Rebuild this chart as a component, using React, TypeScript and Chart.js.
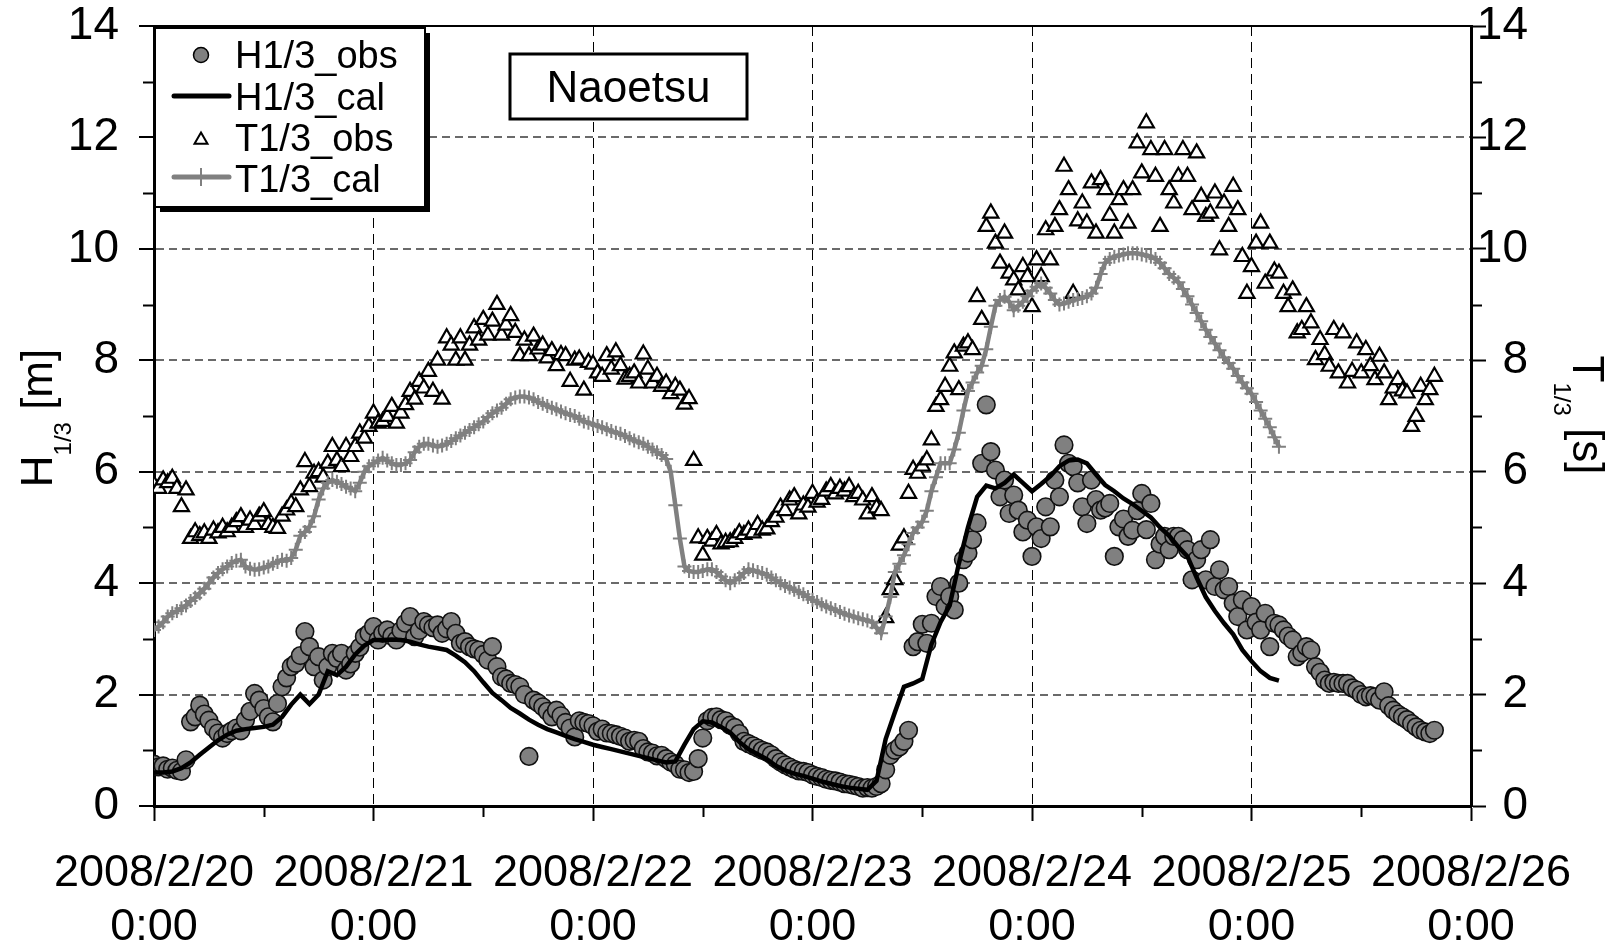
import React, { useEffect, useRef } from 'react';
import { Chart, registerables } from 'chart.js';

Chart.register(...registerables);

const FONT = '"Liberation Sans", Arial, Helvetica, sans-serif';

// x axis: hours after 2008/2/20 0:00
const xTickDates = ['2008/2/20', '2008/2/21', '2008/2/22', '2008/2/23', '2008/2/24', '2008/2/25', '2008/2/26'];
const xTickTime = '0:00';
const HOURS_PER_DAY = 24;
const X_MAX_HOURS = 144;

const seriesLabels = ['H1/3_obs', 'H1/3_cal', 'T1/3_obs', 'T1/3_cal'];
const stationName = 'Naoetsu';

// sampling interval of each series [hours]
const OBS_STEP = 0.5;
const HCAL_STEP = 1;
const TCAL_STEP = 0.5;

// observed significant wave height [m], every 30 min from 2008/2/20 0:00
const hObs = [
  0.75, 0.7, 0.72, 0.66, 0.68, 0.64, 0.62, 0.83, 1.51, 1.6,
  1.81, 1.65, 1.54, 1.4, 1.31, 1.22, 1.3, 1.35, 1.4, 1.35,
  1.54, 1.7, 2.02, 1.9, 1.75, 1.6, 1.51, 1.84, 2.14, 2.3,
  2.5, 2.56, 2.7, 3.13, 2.86, 2.5, 2.68, 2.26, 2.5, 2.74,
  2.65, 2.74, 2.44, 2.55, 2.74, 2.85, 3.04, 3.1, 3.22, 2.98,
  3.1, 3.16, 3.05, 2.98, 3.15, 3.28, 3.4, 3.04, 3.15, 3.31,
  3.25, 3.2, 3.25, 3.1, 3.18, 3.31, 3.1, 2.92, 2.95, 2.86,
  2.82, 2.8, 2.72, 2.62, 2.86, 2.5, 2.32, 2.28, 2.2, 2.18,
  2.14, 2.0, 0.89, 1.9, 1.85, 1.78, 1.7, 1.6, 1.72, 1.62,
  1.5, 1.4, 1.24, 1.53, 1.5, 1.48, 1.44, 1.34, 1.38, 1.31,
  1.3, 1.28, 1.25, 1.22, 1.16, 1.18, 1.16, 1.03, 0.97, 0.95,
  0.9, 0.91, 0.85, 0.79, 0.75, 0.66, 0.65, 0.6, 0.62, 0.85,
  1.22, 1.53, 1.59, 1.6, 1.55, 1.53, 1.45, 1.41, 1.3, 1.16,
  1.12, 1.08, 1.04, 1.0, 0.97, 0.92, 0.85, 0.79, 0.74, 0.7,
  0.66, 0.63, 0.62, 0.6, 0.56, 0.53, 0.51, 0.48, 0.46, 0.45,
  0.43, 0.4, 0.39, 0.37, 0.35, 0.32, 0.33, 0.32, 0.35, 0.4,
  0.65, 0.91, 1.0, 1.06, 1.16, 1.36, 2.86, 2.95, 3.26, 2.92,
  3.28, 3.76, 3.94, 3.58, 3.76, 3.52, 4.0, 4.42, 4.54, 4.78,
  5.08, 6.15, 7.2, 6.36, 6.03, 5.55, 5.85, 5.25, 5.58, 5.31,
  4.92, 5.13, 4.48, 5.01, 4.8, 5.37, 5.01, 5.85, 5.55, 6.48,
  6.15, 6.09, 5.8, 5.37, 5.07, 5.85, 5.5, 5.31, 5.35, 5.43,
  4.48, 5.01, 5.15, 4.84, 4.95, 5.3, 5.61, 4.96, 5.43, 4.42,
  4.7, 4.84, 4.6, 4.84, 4.84, 4.78, 4.6, 4.06, 4.42, 4.6,
  4.06, 4.78, 3.94, 4.24, 3.88, 3.94, 3.64, 3.4, 3.7, 3.16,
  3.58, 3.3, 3.16, 3.46, 2.86, 3.28, 3.25, 3.16, 3.05, 2.98,
  2.68, 2.75, 2.86, 2.8, 2.5, 2.4, 2.26, 2.2, 2.22, 2.2,
  2.2, 2.2, 2.12, 2.08, 2.0, 1.96, 1.98, 1.96, 1.9, 2.05,
  1.8, 1.72, 1.65, 1.6, 1.55, 1.48, 1.42, 1.36, 1.33, 1.3,
  1.36,
];

// calculated significant wave height [m], hourly
const hCal = [
  0.6, 0.6, 0.62, 0.68, 0.78, 0.92, 1.05, 1.18, 1.28, 1.35,
  1.38, 1.4, 1.42, 1.46, 1.6, 1.82, 2.0, 1.83, 2.0, 2.42,
  2.35, 2.5, 2.72, 2.88, 2.98, 2.98, 2.99, 2.98, 2.95, 2.9,
  2.86, 2.83, 2.8, 2.7, 2.58, 2.42, 2.22, 2.03, 1.9, 1.76,
  1.66, 1.55, 1.46, 1.38, 1.32, 1.26, 1.2, 1.15, 1.1, 1.06,
  1.02, 0.98, 0.94, 0.9, 0.86, 0.82, 0.78, 0.8, 1.1, 1.38,
  1.52, 1.5, 1.42, 1.32, 1.15, 1.02, 0.93, 0.84, 0.72, 0.64,
  0.58, 0.54, 0.49, 0.44, 0.4, 0.36, 0.33, 0.31, 0.29, 0.45,
  1.2, 1.68, 2.14, 2.2, 2.28, 2.9, 3.3, 3.6, 4.35, 5.0,
  5.55, 5.75, 5.7, 5.8, 5.95, 5.8, 5.65, 5.78, 5.92, 6.1,
  6.2, 6.22, 6.15, 5.95, 5.76, 5.65, 5.52, 5.42, 5.3, 5.18,
  5.0, 4.85, 4.65, 4.48, 4.1, 3.75, 3.5, 3.28, 3.08, 2.8,
  2.6, 2.42, 2.3, 2.25,
];

// observed significant wave period [s], every 30 min
const tObs = [
  5.76, 5.7, 5.85, 5.8, 5.88, 5.7, 5.37, 5.67, 4.8, 4.92,
  4.85, 4.9, 4.8, 4.95, 4.9, 5.0, 4.92, 5.0, 5.1, 5.19,
  5.0, 5.13, 5.05, 5.2, 5.28, 5.05, 5.0, 4.98, 5.2, 5.31,
  5.43, 5.37, 5.67, 6.18, 5.73, 5.97, 6.0, 5.9, 6.15, 6.45,
  6.2, 6.09, 6.45, 6.27, 6.45, 6.69, 6.6, 6.81, 7.05, 6.87,
  6.9, 6.99, 7.17, 6.87, 7.05, 7.2, 7.44, 7.3, 7.62, 7.5,
  7.8, 7.44, 8.0, 7.3, 8.4, 8.27, 8.0, 8.4, 8.0, 8.27,
  8.58, 8.36, 8.73, 8.45, 8.7, 9.0, 8.45, 8.63, 8.8, 8.5,
  8.08, 8.36, 8.08, 8.43, 8.2, 8.27, 8.04, 8.17, 7.9, 8.1,
  8.08, 7.62, 8.0, 8.02, 7.46, 7.96, 7.93, 7.77, 7.71, 8.08,
  7.84, 8.15, 7.9, 7.66, 7.71, 7.77, 7.59, 8.11, 7.84, 7.59,
  7.71, 7.53, 7.59, 7.4, 7.53, 7.46, 7.21, 7.31, 6.2, 4.81,
  4.5, 4.8, 4.75, 4.87, 4.7, 4.73, 4.74, 4.8, 4.9, 4.87,
  4.95, 4.9, 5.05, 4.95, 4.97, 5.1, 5.18, 5.36, 5.3, 5.49,
  5.55, 5.24, 5.4, 5.36, 5.61, 5.45, 5.5, 5.65, 5.73, 5.6,
  5.7, 5.65, 5.73, 5.55, 5.61, 5.49, 5.24, 5.55, 5.35, 5.3,
  3.38, 3.88, 4.06, 4.68, 4.81, 5.61, 6.04, 5.97, 6.1, 6.21,
  6.57, 7.17, 7.29, 7.53, 7.89, 8.13, 7.47, 8.25, 8.31, 8.19,
  9.14, 8.73, 10.4, 10.64, 10.1, 9.74, 10.28, 9.56, 9.44, 9.26,
  9.68, 9.5, 8.96, 9.8, 9.5, 10.34, 9.8, 10.4, 10.7, 11.48,
  11.06, 9.2, 10.5, 10.82, 10.46, 11.18, 10.28, 11.24, 11.06, 10.6,
  10.28, 10.88, 11.06, 10.46, 11.06, 11.9, 11.36, 12.26, 11.78, 11.3,
  10.4, 11.78, 11.06, 10.82, 11.3, 11.78, 11.3, 10.7, 11.72, 10.94,
  10.58, 10.64, 11.0, 9.98, 10.82, 10.4, 11.12, 10.7, 9.86, 9.2,
  9.68, 10.1, 10.46, 9.38, 10.1, 9.6, 9.56, 9.2, 8.96, 9.26,
  8.49, 8.55, 8.96, 8.67, 8.01, 8.37, 8.1, 7.89, 8.55, 7.77,
  8.49, 7.59, 7.8, 8.31, 7.77, 8.19, 7.9, 7.65, 8.07, 7.77,
  7.29, 7.5, 7.65, 7.45, 7.41, 6.81, 6.99, 7.53, 7.29, 7.47,
  7.71,
];

// calculated significant wave period [s], every 30 min
const tCal = [
  3.16, 3.22, 3.3, 3.4, 3.46, 3.5, 3.55, 3.6, 3.68, 3.74,
  3.82, 3.9, 4.0, 4.1, 4.18, 4.25, 4.3, 4.36, 4.4, 4.42,
  4.3, 4.26, 4.24, 4.25, 4.28, 4.3, 4.35, 4.38, 4.42, 4.4,
  4.45, 4.6, 4.85, 4.92, 5.01, 5.2, 5.5, 5.7, 5.8, 5.85,
  5.82, 5.78, 5.73, 5.7, 5.65, 5.8, 6.0, 6.1, 6.15, 6.2,
  6.25, 6.2, 6.15, 6.12, 6.12, 6.15, 6.21, 6.35, 6.45, 6.5,
  6.5, 6.47, 6.45, 6.47, 6.5, 6.55, 6.6, 6.65, 6.7, 6.75,
  6.8, 6.85, 6.9, 6.98, 7.05, 7.1, 7.15, 7.22, 7.3, 7.33,
  7.35, 7.35, 7.33, 7.3, 7.25, 7.22, 7.18, 7.15, 7.12, 7.08,
  7.05, 7.02, 7.0, 6.95, 6.9, 6.88, 6.85, 6.82, 6.8, 6.76,
  6.73, 6.7, 6.68, 6.64, 6.6, 6.56, 6.53, 6.5, 6.45, 6.4,
  6.35, 6.3, 6.23, 6.0, 5.4, 4.8, 4.3, 4.22, 4.2, 4.2,
  4.22, 4.25, 4.25, 4.2, 4.12, 4.05, 4.0, 4.05, 4.1, 4.18,
  4.25, 4.23, 4.2, 4.18, 4.15, 4.1, 4.05, 4.0, 3.95, 3.92,
  3.88, 3.84, 3.8, 3.75, 3.7, 3.66, 3.62, 3.58, 3.55, 3.52,
  3.48, 3.45, 3.42, 3.4, 3.37, 3.35, 3.33, 3.3, 3.2, 3.1,
  3.4, 3.75, 4.2, 4.35, 4.5, 4.7, 4.9, 5.0, 5.1, 5.3,
  5.65, 5.9, 6.15, 6.15, 6.15, 6.4, 6.7, 7.1, 7.45, 7.6,
  7.78, 7.9, 8.2, 8.6, 8.98, 9.08, 9.14, 9.05, 8.9, 8.98,
  9.05, 9.15, 9.25, 9.32, 9.38, 9.3, 9.2, 9.08, 9.0, 9.02,
  9.05, 9.08, 9.1, 9.12, 9.15, 9.2, 9.3, 9.55, 9.75, 9.82,
  9.86, 9.88, 9.9, 9.92, 9.92, 9.92, 9.9, 9.88, 9.86, 9.82,
  9.75, 9.65, 9.55, 9.48, 9.4, 9.28, 9.15, 9.0, 8.85, 8.7,
  8.55, 8.42, 8.3, 8.18, 8.05, 7.95, 7.85, 7.72, 7.6, 7.5,
  7.4, 7.25, 7.1, 6.95, 6.8, 6.62, 6.45,
];

const toXY = (vals: number[], step: number) => vals.map((y, i) => ({ x: i * step, y }));

const GRAY = '#808080';
const MAJOR_TICK = 15;
const MINOR_TICK = 11;

function drawRich(ctx: CanvasRenderingContext2D, parts: { text: string; size: number; dy: number }[], x: number, y: number, angle: number) {
  ctx.save();
  ctx.translate(x, y);
  ctx.rotate(angle);
  let total = 0;
  const widths = parts.map((p) => {
    ctx.font = `${p.size}px ${FONT}`;
    const w = ctx.measureText(p.text).width;
    total += w;
    return w;
  });
  let cx = -total / 2;
  ctx.fillStyle = '#000';
  ctx.textAlign = 'left';
  ctx.textBaseline = 'alphabetic';
  parts.forEach((p, i) => {
    ctx.font = `${p.size}px ${FONT}`;
    ctx.fillText(p.text, cx, p.dy);
    cx += widths[i];
  });
  ctx.restore();
}

const decorPlugin = {
  id: 'decor',
  afterDraw(chart: any) {
    const { ctx, chartArea: a, scales } = chart;
    ctx.save();
    // top frame line
    ctx.strokeStyle = '#000';
    ctx.lineWidth = 2;
    ctx.beginPath();
    ctx.moveTo(a.left, a.top);
    ctx.lineTo(a.right, a.top);
    ctx.stroke();

    // minor (shorter) tick marks
    ctx.lineWidth = 2;
    ctx.beginPath();
    scales.x.ticks.forEach((t: any) => {
      if (Math.round(t.value) % HOURS_PER_DAY !== 0) {
        const px = Math.round(scales.x.getPixelForValue(t.value)) + 0.5;
        ctx.moveTo(px, a.bottom);
        ctx.lineTo(px, a.bottom + MINOR_TICK);
      }
    });
    scales.y.ticks.forEach((t: any) => {
      if (Math.round(t.value) % 2 !== 0) {
        const py = Math.round(scales.y.getPixelForValue(t.value)) + 0.5;
        ctx.moveTo(a.left, py);
        ctx.lineTo(a.left - MINOR_TICK, py);
      }
    });
    scales.y2.ticks.forEach((t: any) => {
      if (Math.round(t.value) % 2 !== 0) {
        const py = Math.round(scales.y2.getPixelForValue(t.value)) + 0.5;
        ctx.moveTo(a.right, py);
        ctx.lineTo(a.right + MINOR_TICK, py);
      }
    });
    ctx.stroke();

    // axis titles with subscripts
    drawRich(ctx, [
      { text: 'H', size: 44, dy: 0 },
      { text: '1/3', size: 24, dy: 19 },
      { text: ' [m]', size: 44, dy: 0 },
    ], 52, 418, -Math.PI / 2);
    drawRich(ctx, [
      { text: 'T', size: 44, dy: 0 },
      { text: '1/3', size: 24, dy: 19 },
      { text: ' [s]', size: 44, dy: 0 },
    ], 1573, 415, Math.PI / 2);

    // legend box with shadow
    const lx = 155, ly = 28, lw = 270, lh = 179;
    ctx.fillStyle = '#000';
    ctx.fillRect(lx + 5, ly + 5, lw, lh);
    ctx.fillStyle = '#fff';
    ctx.fillRect(lx, ly, lw, lh);
    ctx.strokeStyle = '#000';
    ctx.lineWidth = 2;
    ctx.strokeRect(lx, ly, lw, lh);

    const symX = 201;
    const rowsY = [55, 96, 140, 177];
    const baseY = [68, 110, 151, 192];
    ctx.beginPath();
    ctx.arc(symX, rowsY[0], 7.5, 0, Math.PI * 2);
    ctx.fillStyle = GRAY;
    ctx.fill();
    ctx.lineWidth = 1.5;
    ctx.strokeStyle = '#000';
    ctx.stroke();
    ctx.lineCap = 'round';
    ctx.lineWidth = 5;
    ctx.strokeStyle = '#000';
    ctx.beginPath();
    ctx.moveTo(174, rowsY[1]);
    ctx.lineTo(229, rowsY[1]);
    ctx.stroke();
    const r = 7.5;
    ctx.beginPath();
    ctx.moveTo(symX, rowsY[2] - r);
    ctx.lineTo(symX + r * 0.866, rowsY[2] + r * 0.5);
    ctx.lineTo(symX - r * 0.866, rowsY[2] + r * 0.5);
    ctx.closePath();
    ctx.fillStyle = '#fff';
    ctx.fill();
    ctx.lineWidth = 2;
    ctx.lineCap = 'butt';
    ctx.stroke();
    ctx.lineCap = 'round';
    ctx.lineWidth = 5;
    ctx.strokeStyle = GRAY;
    ctx.beginPath();
    ctx.moveTo(174, rowsY[3]);
    ctx.lineTo(229, rowsY[3]);
    ctx.stroke();
    ctx.lineCap = 'butt';
    ctx.lineWidth = 2;
    ctx.beginPath();
    ctx.moveTo(symX, rowsY[3] - 9);
    ctx.lineTo(symX, rowsY[3] + 9);
    ctx.stroke();

    ctx.fillStyle = '#000';
    ctx.font = `38px ${FONT}`;
    ctx.textAlign = 'left';
    ctx.textBaseline = 'alphabetic';
    const labels = chart.data.datasets.map((d: any) => d.label);
    labels.forEach((t: string, i: number) => ctx.fillText(t, 235, baseY[i]));

    // station label box
    ctx.fillStyle = '#fff';
    ctx.fillRect(510, 54, 237, 65);
    ctx.lineWidth = 3;
    ctx.strokeStyle = '#000';
    ctx.strokeRect(510, 54, 237, 65);
    ctx.fillStyle = '#000';
    ctx.font = `44px ${FONT}`;
    ctx.textAlign = 'center';
    ctx.fillText(stationName, 628.5, 101.5);
    ctx.restore();
  },
};

export default function App() {
  const ref = useRef<HTMLCanvasElement | null>(null);
  useEffect(() => {
    if (!ref.current) return;
    const tickFontX = { size: 45, family: FONT, lineHeight: 1.2 };
    const tickFontY = { size: 46, family: FONT, lineHeight: 1.1 };
    const fitY = (w: number) => (s: any) => {
      s.width = w;
      s.paddingTop = 0;
      s.paddingBottom = 0;
    };
    const chart = new Chart(ref.current, {
      type: 'line',
      data: {
        datasets: [
          {
            label: seriesLabels[0],
            data: toXY(hObs, OBS_STEP),
            yAxisID: 'y',
            showLine: false,
            pointStyle: 'circle',
            pointRadius: 8.8,
            pointBackgroundColor: GRAY,
            pointBorderColor: '#111',
            pointBorderWidth: 1.6,
            order: 3,
          },
          {
            label: seriesLabels[1],
            data: toXY(hCal, HCAL_STEP),
            yAxisID: 'y',
            borderColor: '#000',
            borderWidth: 4.5,
            pointRadius: 0,
            tension: 0,
            order: 2,
          },
          {
            label: seriesLabels[2],
            data: toXY(tObs, OBS_STEP),
            yAxisID: 'y2',
            showLine: false,
            pointStyle: 'triangle',
            pointRadius: 8.7,
            pointBackgroundColor: '#fff',
            pointBorderColor: '#000',
            pointBorderWidth: 2.2,
            order: 1,
          },
          {
            label: seriesLabels[3],
            data: toXY(tCal, TCAL_STEP),
            yAxisID: 'y2',
            borderColor: GRAY,
            borderWidth: 4.5,
            pointStyle: 'cross',
            pointRadius: 7,
            pointBorderColor: GRAY,
            pointBorderWidth: 2,
            tension: 0,
            order: 0,
          },
        ],
      },
      options: {
        responsive: false,
        animation: false,
        devicePixelRatio: 1,
        events: [],
        layout: { padding: { top: 26, right: 90, left: 0, bottom: 0 } },
        plugins: { legend: { display: false }, tooltip: { enabled: false }, title: { display: false } },
        scales: {
          x: {
            type: 'linear',
            min: 0,
            max: X_MAX_HOURS,
            afterFit: (s: any) => {
              s.height = 141;
              s.paddingLeft = 0;
              s.paddingRight = 0;
            },
            border: { display: true, color: '#000', width: 3, dash: [10, 6] },
            grid: {
              color: (c: any) => {
                const v = Math.round(c.tick ? c.tick.value : 0);
                return v % HOURS_PER_DAY === 0 && v > 0 && v < X_MAX_HOURS ? '#000' : 'rgba(0,0,0,0)';
              },
              lineWidth: 1,
              tickLength: MAJOR_TICK,
              tickColor: (c: any) => {
                const v = Math.round(c.tick ? c.tick.value : 0);
                return v % HOURS_PER_DAY === 0 ? '#000' : 'rgba(0,0,0,0)';
              },
              tickWidth: 2,
            },
            ticks: {
              stepSize: 12,
              maxTicksLimit: 20,
              autoSkip: false,
              maxRotation: 0,
              minRotation: 0,
              padding: 26,
              color: '#000',
              font: tickFontX,
              callback: (v: any) => {
                const h = Math.round(Number(v));
                return h % HOURS_PER_DAY === 0 ? [xTickDates[h / HOURS_PER_DAY], xTickTime] : '';
              },
            },
          },
          y: {
            type: 'linear',
            position: 'left',
            min: 0,
            max: 14,
            afterFit: fitY(154),
            border: { display: true, color: '#000', width: 3, dash: [8, 5] },
            grid: {
              color: (c: any) => {
                const v = Math.round(c.tick ? c.tick.value : 0);
                return v % 2 === 0 && v > 0 && v < 14 ? '#6a6a6a' : 'rgba(0,0,0,0)';
              },
              lineWidth: 2,
              tickLength: MAJOR_TICK,
              tickColor: (c: any) => {
                const v = Math.round(c.tick ? c.tick.value : 0);
                return v % 2 === 0 ? '#000' : 'rgba(0,0,0,0)';
              },
              tickWidth: 2,
            },
            ticks: {
              stepSize: 1,
              autoSkip: false,
              padding: 20,
              color: '#000',
              font: tickFontY,
              callback: (v: any) => (Math.round(Number(v)) % 2 === 0 ? String(v) : ''),
            },
          },
          y2: {
            type: 'linear',
            position: 'right',
            min: 0,
            max: 14,
            afterFit: fitY(57),
            border: { display: true, color: '#000', width: 3 },
            grid: {
              drawOnChartArea: false,
              tickLength: MAJOR_TICK,
              tickColor: (c: any) => {
                const v = Math.round(c.tick ? c.tick.value : 0);
                return v % 2 === 0 ? '#000' : 'rgba(0,0,0,0)';
              },
              tickWidth: 2,
            },
            ticks: {
              stepSize: 1,
              autoSkip: false,
              padding: 20,
              crossAlign: 'far',
              color: '#000',
              font: tickFontY,
              callback: (v: any) => (Math.round(Number(v)) % 2 === 0 ? String(v) : ''),
            },
          },
        },
      } as any,
      plugins: [decorPlugin],
    });
    return () => chart.destroy();
  }, []);

  return (
    <div style={{ position: 'fixed', left: 0, top: 0, width: '1618px', height: '947px', background: '#fff' }}>
      <canvas ref={ref} width={1618} height={947} style={{ display: 'block' }} />
    </div>
  );
}
